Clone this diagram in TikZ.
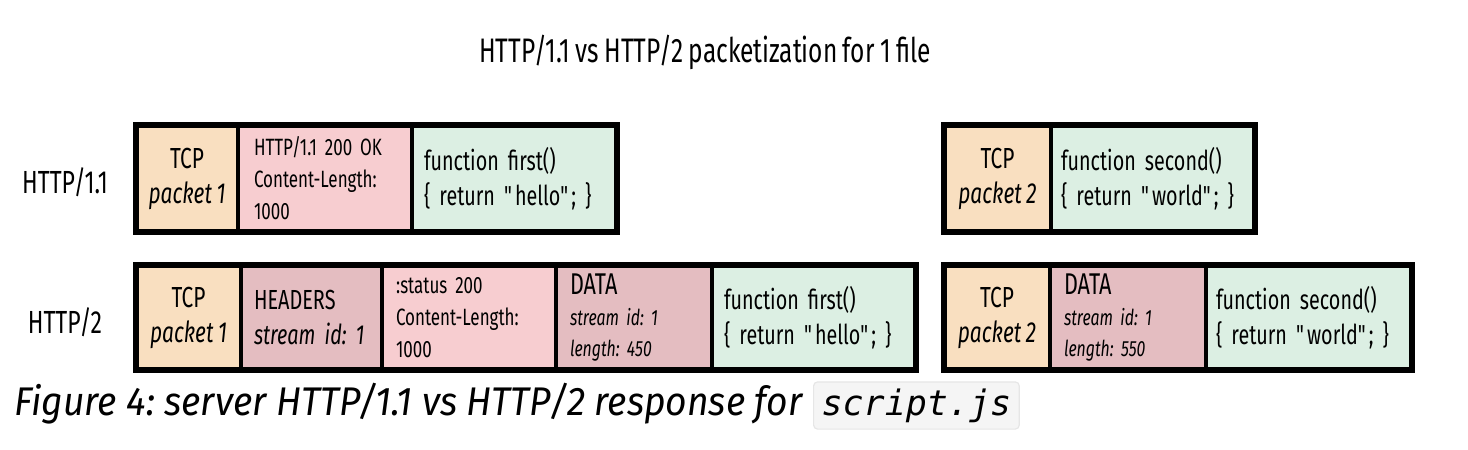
\documentclass[tikz,border=0pt]{standalone}
\usepackage{fontspec}
\setmainfont[FakeStretch=0.72,WordSpace=0.85]{Fira Sans}
\newfontfamily\capfont[FakeStretch=0.93]{Fira Sans}
\newfontfamily\codefont{DejaVu Sans Mono}
\definecolor{peach}{HTML}{F9DFC0}
\definecolor{lpink}{HTML}{F7CDD0}
\definecolor{mint}{HTML}{DCEFE3}
\definecolor{dpink}{HTML}{E4BDC1}
\definecolor{codebg}{HTML}{F5F5F5}
\definecolor{codeedge}{HTML}{E6E6E6}
\newcommand{\qq}{\textquotedbl}
\frenchspacing
\tikzset{
  cell/.style={draw=black, line width=2pt, anchor=west, inner ysep=0pt, outer sep=0pt},
  row1/.style={minimum height=53.5pt},
  row2/.style={minimum height=52.5pt},
  tcpcell/.style={cell, fill=peach, align=center, inner xsep=0pt, font=\fontsize{14.5}{17.5}\selectfont},
  lcell/.style={cell, align=left, inner xsep=6pt, text width=#1},
  frame/.style={draw=black, line width=2.6pt},
  rowlabel/.style={font=\fontsize{16}{18}\selectfont},
  fntext/.style={font=\fontsize{13.7}{17.5}\selectfont},
  hdrtext/.style={font=\fontsize{11.8}{16}\selectfont},
  datatext/.style={font=\fontsize{11}{15.5}\selectfont},
}
\begin{document}
\begin{tikzpicture}[x=0.5pt,y=-0.5pt]
\useasboundingbox (0,0) rectangle (1468,450);
\node (title) at (705,52) {\fontsize{17}{20}\selectfont HTTP/1.1 vs HTTP/2 packetization for 1 file};
\node[rowlabel] (l1) at (65,182) {HTTP/1.1};
\node[rowlabel] (l2) at (65,322) {HTTP/2};

% Row 1 left
\node[tcpcell,row1,minimum width=51pt] (tcp1a) at (136,178.5) {TCP\\\itshape packet 1};
\node[lcell=71pt,row1,fill=lpink,inner xsep=8pt,hdrtext] (hdr1) at (tcp1a.east) {HTTP/1.1 200 OK\\Content-Length:\\1000};
\node[lcell=90.5pt,row1,fill=mint,fntext] (fn1a) at (hdr1.east) {function first()\\\{ return \qq hello\qq; \}};
\draw[frame] (tcp1a.north west) rectangle (fn1a.south east);

% Row 1 right
\node[tcpcell,row1,minimum width=53.5pt] (tcp2a) at (944,178.5) {TCP\\\itshape packet 2};
\node[lcell=92pt,row1,fill=mint,inner xsep=5pt,fntext] (fn2a) at (tcp2a.east) {function second()\\\{ return \qq world\qq; \}};
\draw[frame] (tcp2a.north west) rectangle (fn2a.south east);

% Row 2 left
\node[tcpcell,row2,minimum width=52.5pt] (tcp1b) at (136,317.5) {TCP\\\itshape packet 1};
\node[lcell=57.5pt,row2,fill=dpink,inner xsep=6.5pt,font=\fontsize{13.8}{17.5}\selectfont] (hdrs) at (tcp1b.east) {HEADERS\\\itshape stream~id:~1};
\node[lcell=73pt,row2,fill=lpink,inner xsep=7pt,hdrtext] (status) at (hdrs.east) {:status 200\\Content-Length:\\1000};
\node[lcell=64pt,row2,fill=dpink,inner xsep=7pt,datatext] (data1) at (status.east) {{\fontsize{15}{15}\selectfont DATA}\\\itshape stream id: 1\\\itshape length: 450};
\node[lcell=90pt,row2,fill=mint,fntext] (fn1b) at (data1.east) {function first()\\\{ return \qq hello\qq; \}};
\draw[frame] (tcp1b.north west) rectangle (fn1b.south east);

% Row 2 right
\node[tcpcell,row2,minimum width=53pt] (tcp2b) at (944,317.5) {TCP\\\itshape packet 2};
\node[lcell=64pt,row2,fill=dpink,inner xsep=7pt,datatext] (data2) at (tcp2b.east) {{\fontsize{15}{15}\selectfont DATA}\\\itshape stream id: 1\\\itshape length: 550};
\node[lcell=93pt,row2,fill=mint,inner xsep=5pt,fntext] (fn2b) at (data2.east) {function second()\\\{ return \qq world\qq; \}};
\draw[frame] (tcp2b.north west) rectangle (fn2b.south east);

% Caption
\node[anchor=west,inner sep=0pt] (cap) at (14,404) {\capfont\itshape\fontsize{20}{24}\selectfont Figure 4: server HTTP/1.1 vs HTTP/2 response for};
\node[anchor=west,draw=codeedge,fill=codebg,rounded corners=2pt,line width=0.6pt,minimum height=22.5pt,inner xsep=4pt] (code) at (813,405.5) {\codefont\itshape\fontsize{17.5}{20}\selectfont script.js};
\end{tikzpicture}
\end{document}
